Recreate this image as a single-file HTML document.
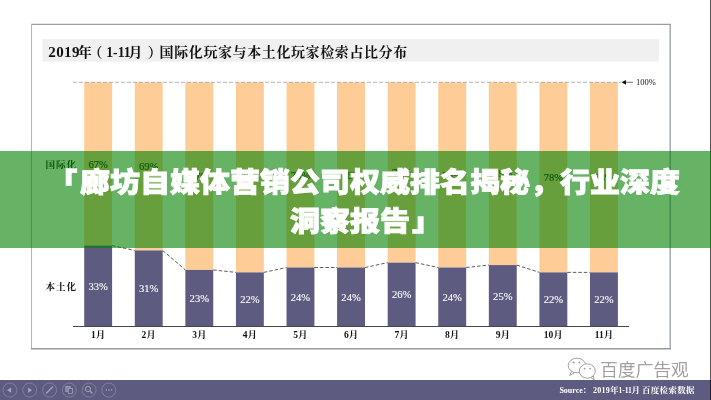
<!DOCTYPE html>
<html lang="zh-CN"><head><meta charset="utf-8"><title>廊坊自媒体营销公司权威排名揭秘，行业深度洞察报告</title>
<style>
html,body{margin:0;padding:0;background:#fff;}
body{width:711px;height:400px;overflow:hidden;position:relative;font-family:"Liberation Sans","Noto Sans CJK SC",sans-serif;}
#stage{position:absolute;left:0;top:0;width:711px;height:400px;overflow:hidden;background:#fff;}
#foot{position:absolute;left:0;top:379.5px;width:711px;height:21px;background:#5e5b80;}
#src{position:absolute;right:16.5px;top:383.5px;color:#fff;font:700 8px/12px "Liberation Serif","Noto Serif CJK SC",serif;letter-spacing:0.75px;white-space:nowrap;}
#wm{position:absolute;left:600.3px;top:357.5px;font:300 17.6px/24px "Liberation Sans","Noto Sans CJK SC",sans-serif;letter-spacing:0.1px;color:#8e8e8e;-webkit-text-stroke:0.25px #9a9a9a;white-space:nowrap;text-shadow:0 0 1px #fff,0 0 2px #fff;}
#band{position:absolute;left:0;top:150.5px;width:711px;height:97.7px;background:rgba(0,128,0,0.6);}
#ttl{position:absolute;left:20px;top:159.98px;width:690px;text-align:center;color:#fff;font:900 30px/42.12px "Liberation Sans","Noto Sans CJK SC",sans-serif;text-spacing-trim:space-all;white-space:nowrap;-webkit-text-stroke:0.9px #fff;transform:scaleY(0.925);transform-origin:50% 50%;}
.lb{display:inline-block;width:30px;-webkit-text-stroke:2px #fff;transform:translate(-3px,-0.4px) scale(0.93,0.88);transform-origin:100% 50%;}
.rb{display:inline-block;width:30px;-webkit-text-stroke:2px #fff;transform:translate(2.6px,0.5px) scale(0.93,0.88);transform-origin:0% 50%;}
#edge{position:absolute;left:710px;top:0;width:1px;height:400px;background:rgba(0,0,0,0.67);}
</style></head><body>
<div id="stage">
<svg width="711" height="400" viewBox="0 0 711 400" style="position:absolute;left:0;top:0">
<line x1="31" y1="24.4" x2="671" y2="24.4" stroke="#9a9ea6" stroke-width="1.2"/>
<line x1="31.5" y1="24" x2="31.5" y2="349" stroke="#b4b6ba" stroke-width="1.1"/>
<line x1="670.2" y1="24" x2="670.2" y2="349.5" stroke="#9da2ac" stroke-width="1.4"/>
<line x1="31" y1="348.8" x2="671" y2="348.8" stroke="#989a9e" stroke-width="1.5"/>
<rect x="42.5" y="39" width="616.5" height="22.7" fill="#f0f0f0"/>
<text y="56.5" font-family="'Liberation Serif','Noto Serif CJK SC',serif" font-weight="700" fill="#111" font-size="14"><tspan x="48.3" font-size="15" letter-spacing="0.4">2019</tspan><tspan x="77.8">年</tspan><tspan x="88.6">（</tspan><tspan x="106.2" font-size="13.8" letter-spacing="0">1-11</tspan><tspan x="128.4">月</tspan><tspan x="147.8">）</tspan><tspan x="159.6" letter-spacing="0.6">国际化玩家与本土化玩家检索占比分布</tspan></text>
<rect x="84.20" y="82.3" width="27.9" height="163.28" fill="#fecd97"/>
<rect x="84.20" y="245.58" width="27.9" height="80.42" fill="#5e5b80"/>
<rect x="134.78" y="82.3" width="27.9" height="168.15" fill="#fecd97"/>
<rect x="134.78" y="250.45" width="27.9" height="75.55" fill="#5e5b80"/>
<rect x="185.36" y="82.3" width="27.9" height="187.65" fill="#fecd97"/>
<rect x="185.36" y="269.95" width="27.9" height="56.05" fill="#5e5b80"/>
<rect x="235.94" y="82.3" width="27.9" height="190.09" fill="#fecd97"/>
<rect x="235.94" y="272.39" width="27.9" height="53.61" fill="#5e5b80"/>
<rect x="286.52" y="82.3" width="27.9" height="185.21" fill="#fecd97"/>
<rect x="286.52" y="267.51" width="27.9" height="58.49" fill="#5e5b80"/>
<rect x="337.10" y="82.3" width="27.9" height="185.21" fill="#fecd97"/>
<rect x="337.10" y="267.51" width="27.9" height="58.49" fill="#5e5b80"/>
<rect x="387.68" y="82.3" width="27.9" height="180.34" fill="#fecd97"/>
<rect x="387.68" y="262.64" width="27.9" height="63.36" fill="#5e5b80"/>
<rect x="438.26" y="82.3" width="27.9" height="185.21" fill="#fecd97"/>
<rect x="438.26" y="267.51" width="27.9" height="58.49" fill="#5e5b80"/>
<rect x="488.84" y="82.3" width="27.9" height="182.77" fill="#fecd97"/>
<rect x="488.84" y="265.07" width="27.9" height="60.93" fill="#5e5b80"/>
<rect x="539.42" y="82.3" width="27.9" height="190.09" fill="#fecd97"/>
<rect x="539.42" y="272.39" width="27.9" height="53.61" fill="#5e5b80"/>
<rect x="590.00" y="82.3" width="27.9" height="190.09" fill="#fecd97"/>
<rect x="590.00" y="272.39" width="27.9" height="53.61" fill="#5e5b80"/>
<line x1="73" y1="82.3" x2="621" y2="82.3" stroke="#999" stroke-width="0.75" stroke-dasharray="4 2"/>
<line x1="112.10" y1="245.58" x2="134.78" y2="250.45" stroke="#333" stroke-width="0.8" stroke-dasharray="3.5 2"/>
<line x1="162.68" y1="250.45" x2="185.36" y2="269.95" stroke="#333" stroke-width="0.8" stroke-dasharray="3.5 2"/>
<line x1="213.26" y1="269.95" x2="235.94" y2="272.39" stroke="#333" stroke-width="0.8" stroke-dasharray="3.5 2"/>
<line x1="263.84" y1="272.39" x2="286.52" y2="267.51" stroke="#333" stroke-width="0.8" stroke-dasharray="3.5 2"/>
<line x1="314.42" y1="267.51" x2="337.10" y2="267.51" stroke="#333" stroke-width="0.8" stroke-dasharray="3.5 2"/>
<line x1="365.00" y1="267.51" x2="387.68" y2="262.64" stroke="#333" stroke-width="0.8" stroke-dasharray="3.5 2"/>
<line x1="415.58" y1="262.64" x2="438.26" y2="267.51" stroke="#333" stroke-width="0.8" stroke-dasharray="3.5 2"/>
<line x1="466.16" y1="267.51" x2="488.84" y2="265.07" stroke="#333" stroke-width="0.8" stroke-dasharray="3.5 2"/>
<line x1="516.74" y1="265.07" x2="539.42" y2="272.39" stroke="#333" stroke-width="0.8" stroke-dasharray="3.5 2"/>
<line x1="567.32" y1="272.39" x2="590.00" y2="272.39" stroke="#333" stroke-width="0.8" stroke-dasharray="3.5 2"/>
<line x1="73" y1="326.5" x2="629" y2="326.5" stroke="#45454f" stroke-width="1"/>
<polygon points="621.5,82.3 626,79.89999999999999 626,84.7" fill="#111"/>
<line x1="626" y1="82.3" x2="633" y2="82.3" stroke="#555" stroke-width="0.8"/>
<text x="636" y="85.1" font-family="'Liberation Serif',serif" font-size="8.5" fill="#111">100%</text>
<text x="98.15" y="289.79" text-anchor="middle" font-family="'Liberation Serif','Noto Serif CJK SC',serif" font-size="10.6" fill="#fff" stroke="#fff" stroke-width="0.12">33%</text>
<text x="98.15" y="167.74" text-anchor="middle" font-family="'Liberation Serif','Noto Serif CJK SC',serif" font-size="10.6" fill="#222" stroke="#222" stroke-width="0.2">67%</text>
<text x="98.15" y="338.2" text-anchor="middle" font-family="'Liberation Serif','Noto Serif CJK SC',serif" font-weight="700" font-size="9.5" fill="#111">1月</text>
<text x="148.73" y="292.23" text-anchor="middle" font-family="'Liberation Serif','Noto Serif CJK SC',serif" font-size="10.6" fill="#fff" stroke="#fff" stroke-width="0.12">31%</text>
<text x="148.73" y="170.18" text-anchor="middle" font-family="'Liberation Serif','Noto Serif CJK SC',serif" font-size="10.6" fill="#222" stroke="#222" stroke-width="0.2">69%</text>
<text x="148.73" y="338.2" text-anchor="middle" font-family="'Liberation Serif','Noto Serif CJK SC',serif" font-weight="700" font-size="9.5" fill="#111">2月</text>
<text x="199.31" y="301.97" text-anchor="middle" font-family="'Liberation Serif','Noto Serif CJK SC',serif" font-size="10.6" fill="#fff" stroke="#fff" stroke-width="0.12">23%</text>
<text x="199.31" y="179.92" text-anchor="middle" font-family="'Liberation Serif','Noto Serif CJK SC',serif" font-size="10.6" fill="#222" stroke="#222" stroke-width="0.2">77%</text>
<text x="199.31" y="338.2" text-anchor="middle" font-family="'Liberation Serif','Noto Serif CJK SC',serif" font-weight="700" font-size="9.5" fill="#111">3月</text>
<text x="249.89" y="303.19" text-anchor="middle" font-family="'Liberation Serif','Noto Serif CJK SC',serif" font-size="10.6" fill="#fff" stroke="#fff" stroke-width="0.12">22%</text>
<text x="249.89" y="181.14" text-anchor="middle" font-family="'Liberation Serif','Noto Serif CJK SC',serif" font-size="10.6" fill="#222" stroke="#222" stroke-width="0.2">78%</text>
<text x="249.89" y="338.2" text-anchor="middle" font-family="'Liberation Serif','Noto Serif CJK SC',serif" font-weight="700" font-size="9.5" fill="#111">4月</text>
<text x="300.47" y="300.76" text-anchor="middle" font-family="'Liberation Serif','Noto Serif CJK SC',serif" font-size="10.6" fill="#fff" stroke="#fff" stroke-width="0.12">24%</text>
<text x="300.47" y="178.71" text-anchor="middle" font-family="'Liberation Serif','Noto Serif CJK SC',serif" font-size="10.6" fill="#222" stroke="#222" stroke-width="0.2">76%</text>
<text x="300.47" y="338.2" text-anchor="middle" font-family="'Liberation Serif','Noto Serif CJK SC',serif" font-weight="700" font-size="9.5" fill="#111">5月</text>
<text x="351.05" y="300.76" text-anchor="middle" font-family="'Liberation Serif','Noto Serif CJK SC',serif" font-size="10.6" fill="#fff" stroke="#fff" stroke-width="0.12">24%</text>
<text x="351.05" y="178.71" text-anchor="middle" font-family="'Liberation Serif','Noto Serif CJK SC',serif" font-size="10.6" fill="#222" stroke="#222" stroke-width="0.2">76%</text>
<text x="351.05" y="338.2" text-anchor="middle" font-family="'Liberation Serif','Noto Serif CJK SC',serif" font-weight="700" font-size="9.5" fill="#111">6月</text>
<text x="401.63" y="298.32" text-anchor="middle" font-family="'Liberation Serif','Noto Serif CJK SC',serif" font-size="10.6" fill="#fff" stroke="#fff" stroke-width="0.12">26%</text>
<text x="401.63" y="176.27" text-anchor="middle" font-family="'Liberation Serif','Noto Serif CJK SC',serif" font-size="10.6" fill="#222" stroke="#222" stroke-width="0.2">74%</text>
<text x="401.63" y="338.2" text-anchor="middle" font-family="'Liberation Serif','Noto Serif CJK SC',serif" font-weight="700" font-size="9.5" fill="#111">7月</text>
<text x="452.21" y="300.76" text-anchor="middle" font-family="'Liberation Serif','Noto Serif CJK SC',serif" font-size="10.6" fill="#fff" stroke="#fff" stroke-width="0.12">24%</text>
<text x="452.21" y="178.71" text-anchor="middle" font-family="'Liberation Serif','Noto Serif CJK SC',serif" font-size="10.6" fill="#222" stroke="#222" stroke-width="0.2">76%</text>
<text x="452.21" y="338.2" text-anchor="middle" font-family="'Liberation Serif','Noto Serif CJK SC',serif" font-weight="700" font-size="9.5" fill="#111">8月</text>
<text x="502.79" y="299.54" text-anchor="middle" font-family="'Liberation Serif','Noto Serif CJK SC',serif" font-size="10.6" fill="#fff" stroke="#fff" stroke-width="0.12">25%</text>
<text x="502.79" y="177.49" text-anchor="middle" font-family="'Liberation Serif','Noto Serif CJK SC',serif" font-size="10.6" fill="#222" stroke="#222" stroke-width="0.2">75%</text>
<text x="502.79" y="338.2" text-anchor="middle" font-family="'Liberation Serif','Noto Serif CJK SC',serif" font-weight="700" font-size="9.5" fill="#111">9月</text>
<text x="553.37" y="303.19" text-anchor="middle" font-family="'Liberation Serif','Noto Serif CJK SC',serif" font-size="10.6" fill="#fff" stroke="#fff" stroke-width="0.12">22%</text>
<text x="553.37" y="181.14" text-anchor="middle" font-family="'Liberation Serif','Noto Serif CJK SC',serif" font-size="10.6" fill="#222" stroke="#222" stroke-width="0.2">78%</text>
<text x="553.37" y="338.2" text-anchor="middle" font-family="'Liberation Serif','Noto Serif CJK SC',serif" font-weight="700" font-size="9.5" fill="#111">10月</text>
<text x="603.95" y="303.19" text-anchor="middle" font-family="'Liberation Serif','Noto Serif CJK SC',serif" font-size="10.6" fill="#fff" stroke="#fff" stroke-width="0.12">22%</text>
<text x="603.95" y="181.14" text-anchor="middle" font-family="'Liberation Serif','Noto Serif CJK SC',serif" font-size="10.6" fill="#222" stroke="#222" stroke-width="0.2">78%</text>
<text x="603.95" y="338.2" text-anchor="middle" font-family="'Liberation Serif','Noto Serif CJK SC',serif" font-weight="700" font-size="9.5" fill="#111">11月</text>
<text x="45.6" y="167.5" font-family="'Liberation Serif','Noto Serif CJK SC',serif" font-weight="700" font-size="9.6" letter-spacing="0.8" fill="#111">国际化</text>
<text x="45.6" y="289.5" font-family="'Liberation Serif','Noto Serif CJK SC',serif" font-weight="700" font-size="9.6" letter-spacing="0.8" fill="#111">本土化</text>
</svg>
<div id="foot"></div>
<svg width="711" height="21" viewBox="0 379 711 21" style="position:absolute;left:0;top:379px">
<circle cx="9.9" cy="390.1" r="7" fill="none" stroke="#8481a2" stroke-width="0.9"/>
<circle cx="29.7" cy="390.1" r="7" fill="none" stroke="#8481a2" stroke-width="0.9"/>
<circle cx="49.6" cy="390.1" r="7" fill="none" stroke="#8481a2" stroke-width="0.9"/>
<circle cx="69.3" cy="390.1" r="7" fill="none" stroke="#8481a2" stroke-width="0.9"/>
<circle cx="89.1" cy="390.1" r="7" fill="none" stroke="#8481a2" stroke-width="0.9"/>
<circle cx="108.8" cy="390.1" r="7" fill="none" stroke="#8481a2" stroke-width="0.9"/>
<polygon points="7.1,390.2 11.2,387.6 11.2,392.8" fill="#a4a2bd"/>
<polygon points="32.2,390.2 28.1,387.6 28.1,392.8" fill="#a4a2bd"/>
<line x1="46" y1="393.5" x2="53" y2="386.5" stroke="#a4a2bd" stroke-width="1.4"/>
<rect x="65.8" y="386.4" width="4.4" height="5.2" fill="#8582a4" stroke="#a4a2bd" stroke-width="0.8"/><rect x="68.2" y="388.5" width="4.2" height="5" fill="#5e5b80" stroke="#a4a2bd" stroke-width="0.8"/>
<circle cx="88" cy="389" r="2.6" fill="none" stroke="#a4a2bd" stroke-width="1"/><line x1="90" y1="391" x2="92.5" y2="393.5" stroke="#a4a2bd" stroke-width="1.2"/>
<circle cx="106.30000000000001" cy="390" r="0.8" fill="#a4a2bd"/>
<circle cx="108.9" cy="390" r="0.8" fill="#a4a2bd"/>
<circle cx="111.5" cy="390" r="0.8" fill="#a4a2bd"/>
</svg>
<svg width="34" height="26" viewBox="0 0 34 26" style="position:absolute;left:565px;top:356px">
<g fill="#fff" stroke="#a2a2a2" stroke-width="1">
<path d="M6.5 15.2 L4.6 19.6 L9.6 16.6 Z" stroke-linejoin="round"/>
<ellipse cx="12" cy="9.5" rx="8.8" ry="7.3"/>
<path d="M25.6 21.4 L29.2 24 L28.4 20 Z" stroke-linejoin="round"/>
<ellipse cx="22.3" cy="15" rx="8" ry="7.2"/>
</g>
<g fill="#9a9a9a"><circle cx="8.6" cy="6.6" r="1"/><circle cx="14.4" cy="6.6" r="1"/><circle cx="19.6" cy="12.6" r="0.9"/><circle cx="25.2" cy="12.6" r="0.9"/></g>
</svg>
<div id="wm">百度广告观</div>
<svg width="711" height="21" viewBox="0 379 711 21" style="position:absolute;left:0;top:379px"><text y="393.4" font-family="'Liberation Serif','Noto Serif CJK SC',serif" font-weight="700" font-size="8.5" fill="#fff"><tspan x="559.4" font-size="8">Source</tspan><tspan x="582.6">：</tspan><tspan x="593.1" font-size="8" letter-spacing="0.2">2019</tspan><tspan x="610">年</tspan><tspan x="618.6" font-size="7.6" letter-spacing="-0.1">1-11</tspan><tspan x="631.4">月</tspan><tspan x="642" letter-spacing="0.3">百度检索数据</tspan></text></svg>
<div id="edge"></div>
<div id="band"></div>
<div id="ttl"><span class="lb">「</span>廊坊自媒体营销公司权威排名揭秘，行业深度<br>洞察报告<span class="rb">」</span></div>
</div>
</body></html>
